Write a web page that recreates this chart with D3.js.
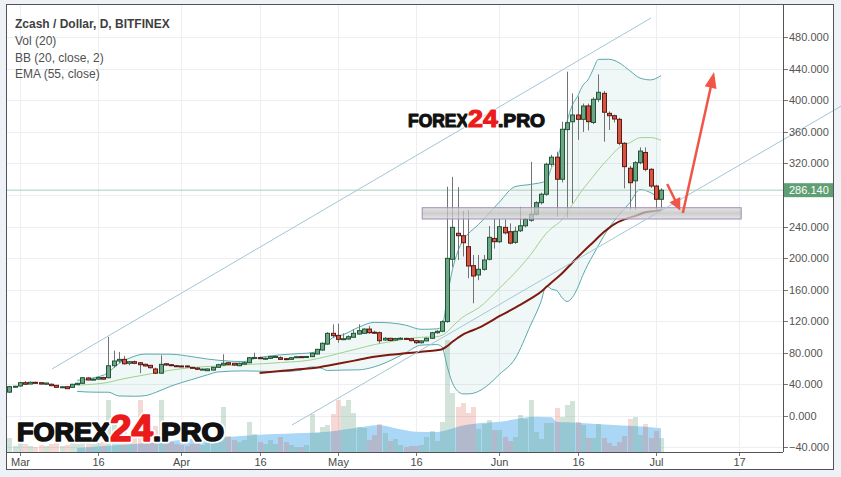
<!DOCTYPE html>
<html><head><meta charset="utf-8">
<script src="https://cdn.jsdelivr.net/npm/d3@7/dist/d3.min.js"></script>
<style>
html,body{margin:0;padding:0;background:#eef2f6;overflow:hidden;}
svg{display:block;font-family:"Liberation Sans",Arial,sans-serif;}
</style></head><body>
<svg id="c" width="841" height="477"></svg>
<script>
// ---------- data (daily candles from 2017-02-27) ----------
const firstDay = "2017-02-27";
const opens = [30,37,37.8,42,40.3,42.5,42,40,40,38.7,36.5,36.9,36.1,39.5,41.2,48,45.5,46.5,48.5,48.3,
63.5,69.5,71.6,66.6,68.6,67.3,65.3,64,59.4,54,66,64.8,63.5,63.2,63.2,61.5,60.6,59,57.2,58,
61.5,64.4,67.3,66.6,63.5,65.5,67.3,73.5,73.7,72.5,72.9,75,73.7,72.5,71.6,74.5,75,74.6,75,78.4,
83.4,91,104.6,102,97,97.4,99.6,103.7,104.6,110,106,105.4,96.1,98.3,96,98,98.2,97.8,95.3,92.7,
95,98.3,105.4,107.2,119.5,198.5,231.5,228.4,214.5,190.4,178.6,185.8,198.5,225,220.8,239,233.5,220,234.7,241,
248,255.5,270.3,281,319,328,300,363,372.9,381.5,376,393,372,401.4,409,383.6,380.6,376,345.6,314,
298,321,334,312.6,291.4,274.6];
const highs = [38,38,43,44,43.5,43,42.5,42,41,39,37.5,37.5,40.5,42,49,49,47.5,49,49.5,100,
82.6,81,76,69.5,70,68,66,64.5,61,76.7,67,65.5,64.5,64,63.8,62,61.5,60,60,62,
66,78,68,67,67.5,68,74.5,80,75,74,76,76.5,75.5,73,74.5,75.5,76,76,80,85,
93,106,116,117,104.6,102,110,116,111,114,108,107,100,99,99,99.5,99,98.5,96,96,
99.5,106.5,108.5,121,290.6,303,290,260,261,204,204,204,240.7,250,250,249,244,240,265,251,
322,272,283,321,331,335,373,436.4,409,405,396,396,404,433,412,386,382,378,347,317,
323,340.5,340.5,314,293,288.5];
const lows = [29,36,37,39.5,40,40.5,39.5,39.5,37.5,35.5,35.5,34,35.5,39,40.5,45,45,46,46,47.5,
61,67,65,64,65.5,54,62.5,60,53,53.5,63.5,63,62.5,61.8,61.5,60,58.5,58.5,56.8,57.5,
61,63.5,64,63.5,63,65,66.5,72.5,72,71.5,72,74,71,70.5,71,73.5,74,74,74.5,78,
82.5,90,99,92.7,96,96.5,99,103,104,104,104,92,95,94.5,95.5,97,97,94.5,91,91.5,
94.5,97.5,104,106,118,189,197.6,202,174.4,142.7,172,184,197,212,219,230,217.5,218,233,239,
246,254,268,279,316,252.5,296,251,269.5,350,360,362,370,398,347.6,362.5,372,343,288.5,261,
261,319,310,289,261,260];
const closes = [37,37.5,42,40,42.5,41.2,40.3,41.6,38.2,36.1,36.8,34.4,40,41.2,48.3,45.4,46.5,48.5,46.5,63.5,
69.5,71.6,66,68.6,66.6,64.8,63.2,61,54,65.3,64.4,63.5,63.4,62.3,62,60.6,59,59.2,59.4,61.5,
64.8,66.6,65.3,64.4,66.6,67.3,73.7,74,72.5,73,75,75.3,71.6,71.3,73.7,74.9,74.6,75.2,79.3,84.3,
92,104.6,101.6,97,97.8,100.3,104.6,108,110,105.4,105.5,95.2,98.3,95.5,98,98.4,97.8,95.3,92.7,95,
98.3,105.4,107.2,119.3,199.7,239,228.4,219.5,190,177.3,185.8,197.6,226.4,220.8,239.8,232,219,234,241,249,
255.5,270.3,281,319,328,300,363.4,371.7,381.5,376,392.9,373,401.4,410.3,385,380.6,376.4,345.6,316,295.6,
321,335.8,312.6,291.4,274.6,286.14];
const volumes = [14,6,9,8,6,5,7,6,8,10,6,7,9,8,20,12,8,9,10,52,
30,24,26,14,16,52,18,16,26,52,18,10,8,7,6,8,10,7,9,12,
30,45,16,12,10,12,30,18,10,8,12,8,15,10,7,5,5,7,38,19,
25,27,38,52,46,52,39,25,24,12,17,28,19,11,13,7,5,6,6,7,
15,21,11,30,112,59,45,49,39,45,23,28,32,22,22,15,11,15,37,33,
52,20,13,29,29,44,35,47,51,30,27,14,14,28,14,9,6,10,16,33,
35,17,28,14,21,14];

// indicator values: [day index, value]
const bbUpper = [[13,45],[16,48],[19,54.9],[20,61],[21,66.2],[23,73],[26,78.3],[31,78.1],[35,75],[38,72],[40,70.5],[45,68.7],[47,72.5],[52,77.3],[56,79],[58,80],[60,86],[61,93.4],[62,99],[64,102.8],[67,112.3],[70,118.5],[73,117.9],[76,115],[79,109.7],[82,110.3],[83,113],[84,150.5],[85,185.2],[86,207.8],[87,222.6],[88,230.6],[90,242.6],[94,271],[97,290.6],[100,293.5],[103,297.7],[104,314.7],[105,323],[106,348],[107,373.5],[108,394],[109,405],[110,419],[111,426],[112,439.4],[113,452],[115,452.2],[117,447.7],[119,437.8],[121,428.3],[123,426],[125,431.5]];
const bbBasis = [[13,39],[17,40.6],[19,42.4],[21,45.7],[26,51.9],[31,57.9],[35,61.2],[40,63.1],[45,64.8],[52,67.5],[58,71],[61,75.4],[64,80.4],[67,85.3],[70,90.3],[73,93.9],[76,97.4],[79,99.6],[82,100.3],[84,106.5],[85,113.4],[86,119.6],[87,125.2],[88,129.2],[90,136.8],[94,161.7],[97,181.4],[100,204.3],[103,231.3],[104,237.7],[106,248.4],[108,267.7],[110,287],[112,303.4],[113,311.9],[115,326.6],[117,340.1],[119,346.2],[121,352.7],[123,352.9],[125,349.5]];
const bbLower = [[13,31],[16,30],[19,29.9],[21,25.2],[24,24.8],[26,25.5],[28,29.5],[31,37.7],[35,46],[38,52],[40,55.6],[45,57],[52,56],[56,58],[58,62],[60,60],[61,57.5],[64,58],[67,58.3],[70,62.1],[73,69.8],[76,79.8],[79,89.6],[82,90.3],[83,87.4],[84,62.5],[85,41.6],[86,31.4],[87,27.8],[88,27.8],[90,31],[92,40],[94,52.5],[97,72.2],[100,115.1],[102,145],[103,164.9],[104,160.7],[105,159],[106,150],[107,145],[108,150],[109,162],[110,178],[111,192],[112,204],[113,216],[115,238],[117,255],[119,270],[121,287],[123,283],[125,274]];
const ema55 = [[48,54.3],[52,56.8],[55,58.8],[58,60.2],[61,63.6],[64,67.2],[67,71],[70,74.8],[73,77.5],[76,79.2],[79,81.2],[82,83.1],[83,84.4],[84,88.5],[85,93.9],[86,98.7],[87,103],[88,106.1],[90,111.4],[92,118.5],[94,126.3],[96,133.3],[98,140.6],[100,148.5],[102,157.4],[103,163.2],[104,169.1],[106,180.5],[108,194.2],[110,207.6],[112,220.2],[114,232.7],[116,242.9],[118,249.1],[120,253.2],[122,258.2],[124,259.9],[125,260.8]];
const volMA = [[13,4],[18,6],[24,8],[30,10.5],[36,13.7],[42,15],[47,17],[55,18.7],[61,20.3],[68,25.3],[71,27],[74,23.7],[78,20.3],[82,20],[84,22],[86,25.3],[90,28.7],[94,30.3],[101,35.3],[104,34.7],[105,30.3],[109,29.3],[116,27],[122,25.3],[125,23.7]];

// drawings
const channelUpper = [[8.17,59.4],[123.1,504.5]];
const channelLower = [[54.2,-11.7],[159.6,392.9]];
const supportZone = {from:79.2, to:140.4, top:263.9, bottom:249.6};
const arrowDown = [[126.2,294],[128.7,260.4]];
const arrowUp = [[129.2,257.2],[135.2,436]];
const lastPrice = 286.14;

const yTickValues = [-40,0,40,80,120,160,200,240,280,320,360,400,440,480];
const xTickDates = ["2017-03-01","2017-03-16","2017-04-01","2017-04-16","2017-05-01","2017-05-16","2017-06-01","2017-06-16","2017-07-01","2017-07-17"];
const xTickLabels = ["Mar","16","Apr","16","May","16","Jun","16","Jul","17"];
const legendLines = ["Zcash / Dollar, D, BITFINEX","Vol (20)","BB (20, close, 2)","EMA (55, close)"];

// ---------- scales ----------
const svg = d3.select("#c");
const DAY = 864e5, base = Date.parse(firstDay + "T00:00:00Z");
const t = i => new Date(base + i*DAY);
const mar1 = Date.UTC(2017,2,1);
const L=7, R=783, T=5, B=452;
const x = d3.scaleUtc().domain([new Date(mar1-2.456*DAY), new Date(mar1+146.42*DAY)]).range([L,R]);
const y = d3.scaleLinear().domain([-45.9,521]).range([B,T]);
const yv = d3.scaleLinear().domain([0,100]).range([B,B-100]);

svg.append("rect").attr("x",7).attr("y",5).attr("width",826).attr("height",464).attr("fill","#fff");
const defs = svg.append("defs");
defs.append("clipPath").attr("id","clip").append("rect").attr("x",L).attr("y",T).attr("width",R-L).attr("height",B-T);
const gr = defs.append("linearGradient").attr("id","zone").attr("x1",0).attr("x2",0).attr("y1",0).attr("y2",1);
gr.append("stop").attr("offset","0%").attr("stop-color","#dcdcdc");
gr.append("stop").attr("offset","50%").attr("stop-color","#bdbdbd");
gr.append("stop").attr("offset","100%").attr("stop-color","#dcdcdc");

// grid
const grid = svg.append("g");
xTickDates.forEach(d=>{const X=Math.round(x(new Date(d+"T00:00:00Z")))+0.5;
  grid.append("line").attr("x1",X).attr("x2",X).attr("y1",T).attr("y2",B).attr("stroke","#eceef1");});
yTickValues.forEach(v=>{const Y=Math.round(y(v))+0.5;
  grid.append("line").attr("x1",L).attr("x2",R).attr("y1",Y).attr("y2",Y).attr("stroke","#eceef1");});

const g = svg.append("g").attr("clip-path","url(#clip)");
const lineP = d3.line().x(d=>x(t(d[0]))).y(d=>y(d[1])).curve(d3.curveMonotoneX);

// volume MA area + bars
g.append("path").datum(volMA)
 .attr("d", d3.area().x(d=>x(t(d[0]))).y0(B).y1(d=>yv(d[1])).curve(d3.curveMonotoneX))
 .attr("fill","#aad7f5");
g.append("g").selectAll("rect").data(volumes).join("rect")
 .attr("x",(d,i)=>Math.round(x(t(i)))-2).attr("width",5)
 .attr("y",d=>yv(d)).attr("height",d=>B-yv(d))
 .attr("fill",(d,i)=>closes[i]>=opens[i]?"#6ba583":"#d75442")
 .attr("fill-opacity",(d,i)=>closes[i]>=opens[i]?0.3:0.22);

// Bollinger fill + lines
const upPath = lineP(bbUpper), loRev = lineP(bbLower.slice().reverse());
g.append("path").attr("d", upPath + "L" + loRev.slice(1) + "Z").attr("fill","#2a9d8f").attr("fill-opacity",0.07);
g.append("path").attr("d", upPath).attr("fill","none").attr("stroke","#5aa9ad").attr("stroke-width",1);
g.append("path").attr("d", lineP(bbLower)).attr("fill","none").attr("stroke","#5aa9ad").attr("stroke-width",1);
g.append("path").attr("d", lineP(bbBasis)).attr("fill","none").attr("stroke","#9fd18f").attr("stroke-width",1);
g.append("path").attr("d", lineP(ema55)).attr("fill","none").attr("stroke","#7d1a0f").attr("stroke-width",2);

// channel lines
const straight = d3.line().x(d=>x(t(d[0]))).y(d=>y(d[1]));
g.append("path").attr("d", straight(channelUpper)).attr("stroke","#a3c6d6").attr("fill","none");

// last price line
g.append("line").attr("x1",L).attr("x2",R).attr("y1",y(lastPrice)).attr("y2",y(lastPrice)).attr("stroke","#a9cfbd");

// candles
const cg = g.append("g");
closes.forEach((c,i)=>{
  const cx = Math.round(x(t(i)))+0.5, o=opens[i], up=c>=o;
  cg.append("line").attr("x1",cx).attr("x2",cx).attr("y1",y(highs[i])).attr("y2",y(lows[i])).attr("stroke","#737375");
  const top=y(Math.max(o,c)), bot=y(Math.min(o,c));
  cg.append("rect").attr("x",cx-2).attr("width",4).attr("y",top).attr("height",Math.max(1,bot-top))
    .attr("fill",up?"#6ba583":"#d75442").attr("stroke",up?"#225437":"#5b1a13").attr("stroke-width",1);
});

// support zone
g.append("rect").attr("x",x(t(supportZone.from))).attr("width",x(t(supportZone.to))-x(t(supportZone.from)))
 .attr("y",y(supportZone.top)).attr("height",y(supportZone.bottom)-y(supportZone.top))
 .attr("fill","url(#zone)").attr("fill-opacity",0.75).attr("stroke","#a08cb6").attr("stroke-width",1);

// lower channel line (runs across the price scale)
svg.append("path").attr("d", straight(channelLower)).attr("stroke","#a3c6d6").attr("fill","none");

// arrows
function arrow(p0,p1,hl,hw){
  const X0=x(t(p0[0])),Y0=y(p0[1]),X1=x(t(p1[0])),Y1=y(p1[1]);
  const dx=X1-X0,dy=Y1-Y0,len=Math.hypot(dx,dy),ux=dx/len,uy=dy/len;
  const bx=X1-ux*hl,by=Y1-uy*hl;
  svg.append("line").attr("x1",X0).attr("y1",Y0).attr("x2",bx+ux*2).attr("y2",by+uy*2).attr("stroke","#f05545").attr("stroke-width",2.5);
  svg.append("path").attr("d",`M${X1},${Y1}L${bx-uy*hw/2},${by+ux*hw/2}L${bx+uy*hw/2},${by-ux*hw/2}Z`).attr("fill","#f05545");
}
arrow(arrowDown[0],arrowDown[1],12,12);
arrow(arrowUp[0],arrowUp[1],16,12);

// right axis (a tick label hidden by the last-price tag is skipped, as on the original)
const ax = svg.append("g");
const py = y(lastPrice);
yTickValues.forEach(v=>{const Y=y(v);
  ax.append("line").attr("x1",R).attr("x2",R+5).attr("y1",Math.round(Y)+0.5).attr("y2",Math.round(Y)+0.5).attr("stroke","#777");
  if (Math.abs(Y-py) > 12)
    ax.append("text").attr("x",789).attr("y",Y+4).attr("font-size",11).attr("fill","#555").text(d3.format(".3f")(v));
});
ax.append("rect").attr("x",R+1).attr("y",py-7).attr("width",49).attr("height",14).attr("fill","#5f9f74");
ax.append("text").attr("x",789).attr("y",py+4).attr("font-size",11).attr("fill","#fff").text(d3.format(".3f")(lastPrice));

// bottom axis
xTickDates.forEach((d,k)=>{const X=Math.round(x(new Date(d+"T00:00:00Z")))+0.5;
  ax.append("line").attr("x1",X).attr("x2",X).attr("y1",B).attr("y2",B+4).attr("stroke","#777");
  ax.append("text").attr("x",X).attr("y",466).attr("text-anchor","middle").attr("font-size",11).attr("fill","#4a4a4a").text(xTickLabels[k]);
});

// frame
svg.append("rect").attr("x",6.5).attr("y",4.5).attr("width",827).attr("height",465).attr("fill","none").attr("stroke","#50535a");
svg.append("line").attr("x1",R+0.5).attr("x2",R+0.5).attr("y1",5).attr("y2",B).attr("stroke","#50535a");
svg.append("line").attr("x1",7).attr("x2",R).attr("y1",B+0.5).attr("y2",B+0.5).attr("stroke","#50535a");

// legend
legendLines.forEach((s,k)=>{
  svg.append("text").attr("x",15).attr("y",28.3+k*16.7).attr("font-size",12)
   .attr("font-weight",k===0?"bold":"normal").attr("fill",k===0?"#3f3f3f":"#505050").text(s);
});

// logos
function logo(x0, base, fs, bigFs, w1, w2, w3, halo){
  const parts=[["FOREX",x0,fs,w1,"#111"],["24",x0+w1,bigFs,w2,"#ec1b1b"],[".PRO",x0+w1+w2,fs,w3,"#111"]];
  parts.forEach(p=>{
    if(halo) svg.append("text").attr("x",p[1]).attr("y",base).attr("font-size",p[2]).attr("font-weight","bold")
      .attr("textLength",p[3]).attr("lengthAdjust","spacingAndGlyphs").attr("fill","#fff").attr("stroke","#fff").attr("stroke-width",halo).attr("stroke-linejoin","round").text(p[0]);
    svg.append("text").attr("x",p[1]).attr("y",base).attr("font-size",p[2]).attr("font-weight","bold")
      .attr("textLength",p[3]).attr("lengthAdjust","spacingAndGlyphs").attr("fill",p[4]).attr("stroke",p[4]).attr("stroke-width",fs/16).attr("stroke-linejoin","round").text(p[0]);
  });
}
logo(408,126.5,18,24,60,30,47,3);
logo(17,440.5,25.5,36,93,43,71,5);
</script>
</body></html>
